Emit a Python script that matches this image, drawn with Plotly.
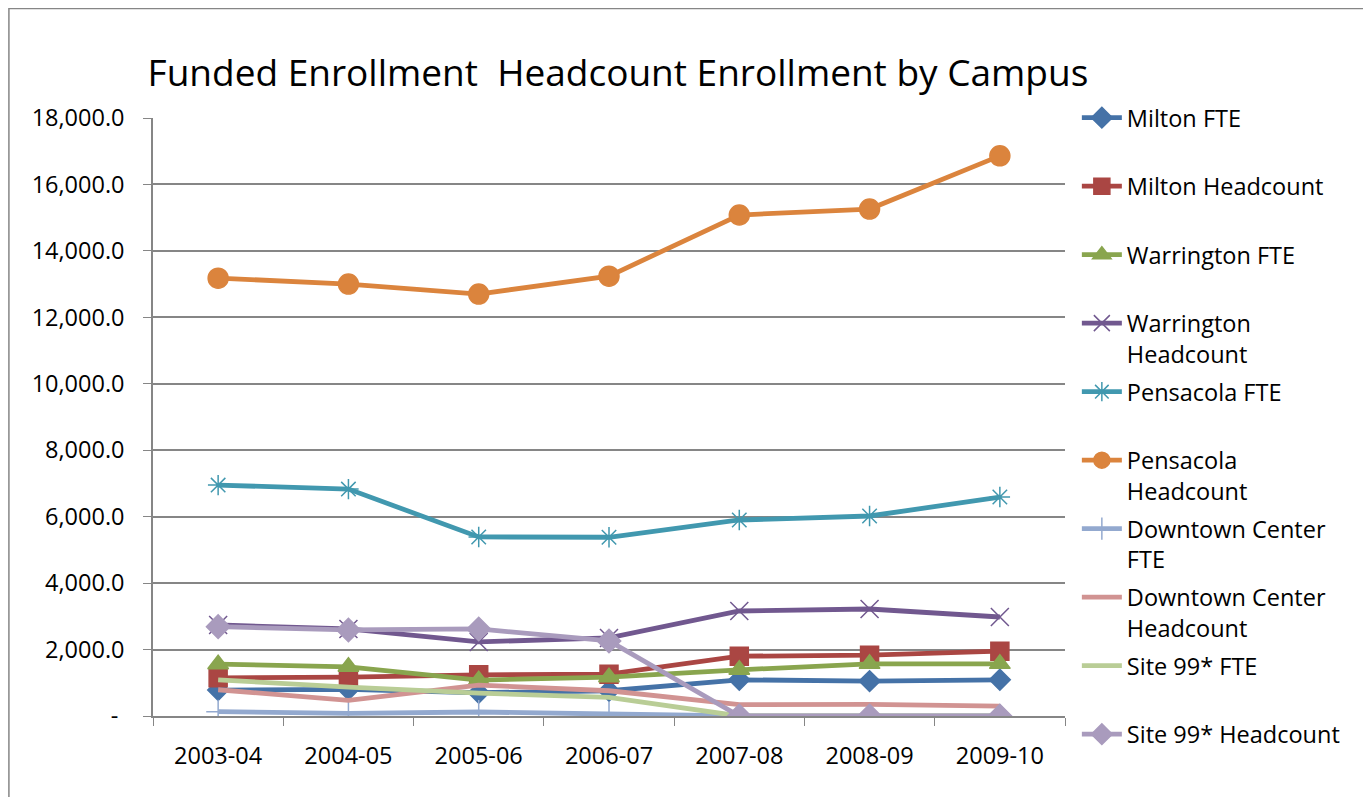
import plotly.graph_objects as go

years = ["2003-04", "2004-05", "2005-06", "2006-07", "2007-08", "2008-09", "2009-10"]

milton_fte = [780, 800, 700, 760, 1090, 1050, 1090]
milton_hc = [1150, 1170, 1240, 1260, 1800, 1830, 1950]
warrington_fte = [1560, 1480, 1080, 1170, 1390, 1570, 1570]
warrington_hc = [2740, 2620, 2230, 2350, 3160, 3220, 2980]
pensacola_fte = [6950, 6830, 5390, 5380, 5900, 6020, 6590]
pensacola_hc = [13180, 13000, 12700, 13240, 15080, 15260, 16860]
downtown_fte = [130, 80, 120, 70, 0, 0, 0]
downtown_hc = [790, 470, 930, 760, 340, 350, 300]
site99_fte = [1090, 870, 690, 560, 0, 0, 0]
site99_hc = [2690, 2590, 2620, 2260, 0, 0, 0]

series = [
    ("Milton FTE", milton_fte, "#4572A7", "diamond", 16),
    ("Milton Headcount", milton_hc, "#AA4643", "square", 18),
    ("Warrington FTE", warrington_fte, "#89A54E", "triangle-up", 18),
    ("Warrington<br>Headcount", warrington_hc, "#71588F", "x-thin-open", 18),
    ("Pensacola FTE", pensacola_fte, "#4198AF", "asterisk-open", 17),
    ("Pensacola<br>Headcount", pensacola_hc, "#DB843D", "circle", 20),
    ("Downtown Center<br>FTE", downtown_fte, "#93A9CF", "cross-thin-open", 17),
    ("Downtown Center<br>Headcount", downtown_hc, "#D19392", None, 0),
    ("Site 99* FTE", site99_fte, "#B9CD96", None, 0),
    ("Site 99* Headcount", site99_hc, "#A99BBD", "diamond", 18),
]

fig = go.Figure()
for i, (name, vals, color, sym, size) in enumerate(series):
    label = name if "<br>" in name else name + "<br> "
    if sym is None:
        fig.add_trace(go.Scatter(x=years, y=vals, name=label, mode="lines",
                                 line=dict(color=color, width=4.8),
                                 legendgroup=str(i)))
    else:
        fig.add_trace(go.Scatter(x=years, y=vals, name=label, mode="lines+markers",
                                 line=dict(color=color, width=4.8),
                                 marker=dict(symbol=sym, size=size, color=color,
                                             line=dict(color=color, width=1.5)),
                                 legendgroup=str(i)))

tickvals = [0, 2000, 4000, 6000, 8000, 10000, 12000, 14000, 16000, 18000]
ticktext = [" - ", "2,000.0", "4,000.0", "6,000.0", "8,000.0", "10,000.0",
            "12,000.0", "14,000.0", "16,000.0", "18,000.0"]

FONT = "Open Sans, Lato, sans-serif"
FS = 23.5

fig.update_layout(
    width=1363, height=789,
    margin=dict(l=145, r=306, t=110, b=81),
    paper_bgcolor="white", plot_bgcolor="white",
    font=dict(family=FONT, size=FS, color="black"),
    title=dict(text="Funded Enrollment  Headcount Enrollment by Campus",
               font=dict(family=FONT, size=37, color="black"), x=0.4475, xanchor="center",
               y=0.917, yanchor="middle"),
    showlegend=True,
    legend=dict(x=1.013, y=1.037, xanchor="left", yanchor="top",
                valign="top", tracegroupgap=4.4, font=dict(size=FS),
                itemwidth=40, bgcolor="rgba(0,0,0,0)", maxheight=780),
    xaxis=dict(type="category", range=[-0.5, 6.5], showgrid=False,
               showline=True, linecolor="#868686", linewidth=1.5,
               ticks="outside", tickson="boundaries", ticklen=8,
               tickcolor="#868686", tickfont=dict(size=FS), ticklabelstandoff=18),
    yaxis=dict(range=[0, 18000], tickvals=tickvals, ticktext=ticktext,
               showgrid=True, gridcolor="#868686", gridwidth=1.5,
               showline=True, linecolor="#868686", linewidth=1.5,
               ticks="outside", ticklen=8, tickcolor="#868686",
               tickfont=dict(size=FS), zeroline=False, ticklabelstandoff=14),
    shapes=[dict(type="rect", xref="paper", yref="paper",
                 x0=-0.158, x1=1.3322, y0=-0.2, y1=1.183,
                 line=dict(color="#868686", width=1.5), fillcolor="rgba(0,0,0,0)",
                 layer="below")],
)

fig.write_html("out.html")
